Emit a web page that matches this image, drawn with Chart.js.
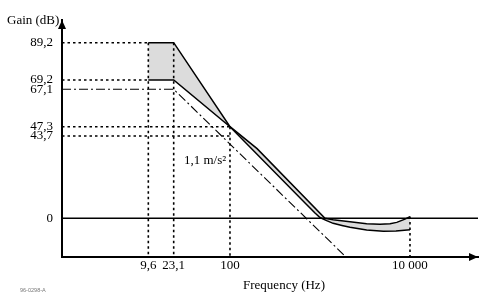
<!DOCTYPE html>
<html><head><meta charset="utf-8">
<script src="https://cdn.jsdelivr.net/npm/chart.js@4.4.0/dist/chart.umd.min.js"></script>
<style>html,body{margin:0;padding:0;background:#fff;}canvas{display:block;}</style>
</head><body>
<canvas id="c" width="479" height="294"></canvas>
<script>
// ---- data ----
const upperFreq = [9.6, 23.1, 100, 200, 1136, 1400, 2154, 3300, 4642, 6000, 7130, 8800, 10000];
const upperGain = [89.2, 89.2, 47.3, 37.0, 0, -0.7, -1.75, -2.8, -3.1, -2.8, -2.1, -0.4, 0.9];
const lowerFreq = [9.6, 23.1, 100, 700, 880, 1000, 1186, 1400, 1755, 2154, 3300, 5050, 6990, 10000];
const lowerGain = [69.2, 69.2, 47.3, 7.6, 2.8, 0.4, -1.2, -2.6, -3.7, -4.65, -6.05, -6.7, -6.5, -5.9];
const dashFreq = [1, 23.1, 1945];
const dashGain = [67.1, 67.1, -20];
const zeroFreq = [1, 57000];
const zeroGain = [0, 0];
const guideHGain = [89.2, 69.2, 47.3, 43.7];
const guideHFreq = [9.6, 9.6, 100, 100];
const guideVFreq = [9.6, 23.1, 100, 10000];
const guideVGain = [89.2, 89.2, 47.3, 0.9];
const xTickValues = [9.6, 23.1, 100, 10000];
const xTickLabels = ['9,6', '23,1', '100', '10 000'];
const yTickValues = [0, 43.7, 47.3, 67.1, 69.2, 89.2];
const yTickLabels = ['0', '43,7', '47,3', '67,1', '69,2', '89,2'];

// ---- schematic (piecewise) axis layout: [value, fraction of axis] ----
const axisLayout = {
  x: { log: true,  anchors: [[1, 0], [9.6, 0.2075], [23.1, 0.2685], [100, 0.4038], [10000, 0.8365], [57000, 1]] },
  y: { log: false, anchors: [[-20, 0], [0, 0.1633], [43.7, 0.5105], [47.3, 0.5498], [67.1, 0.7076], [69.2, 0.7468], [89.2, 0.9042], [100, 1]] }
};

class PiecewiseScale extends Chart.LinearScale {
  _lay() { return axisLayout[this.id]; }
  _tf(v) { return this._lay().log ? Math.log10(v) : v; }
  determineDataLimits() {
    const a = this._lay().anchors;
    this.min = a[0][0];
    this.max = a[a.length - 1][0];
  }
  buildTicks() {
    const vals = this.id === 'x' ? xTickValues : yTickValues;
    return vals.map(v => ({ value: v }));
  }
  getPixelForValue(value) {
    if (value === null || value === undefined || isNaN(value)) return NaN;
    const a = this._lay().anchors;
    const t = this._tf(value);
    let i = 0;
    while (i < a.length - 2 && t > this._tf(a[i + 1][0])) i++;
    const v0 = this._tf(a[i][0]), v1 = this._tf(a[i + 1][0]);
    const d = a[i][1] + (t - v0) / (v1 - v0) * (a[i + 1][1] - a[i][1]);
    return this.getPixelForDecimal(d);
  }
  getValueForPixel(pixel) {
    const d = this.getDecimalForPixel(pixel);
    const a = this._lay().anchors;
    let i = 0;
    while (i < a.length - 2 && d > a[i + 1][1]) i++;
    const v0 = this._tf(a[i][0]), v1 = this._tf(a[i + 1][0]);
    const t = v0 + (d - a[i][1]) / (a[i + 1][1] - a[i][1]) * (v1 - v0);
    return this._lay().log ? Math.pow(10, t) : t;
  }
}
PiecewiseScale.id = 'piecewise';
PiecewiseScale.defaults = {};
Chart.register(PiecewiseScale);

const pts = (xs, ys) => xs.map((x, i) => ({ x: x, y: ys[i] }));
const SERIF = '"Liberation Serif", "Times New Roman", serif';

const datasets = [
  { label: 'upper', data: pts(upperFreq, upperGain), borderColor: '#000', borderWidth: 1.5,
    fill: 1, backgroundColor: '#dcdcdc', order: 2 },
  { label: 'lower', data: pts(lowerFreq, lowerGain), borderColor: '#000', borderWidth: 1.5,
    fill: false, order: 2 },
  { label: 'zero', data: pts(zeroFreq, zeroGain), borderColor: '#000', borderWidth: 1.5, fill: false, order: 1 },
  { label: 'dashdot', data: pts(dashFreq, dashGain), borderColor: '#000', borderWidth: 1.1,
    borderDash: [9, 3, 2, 3], fill: false, order: 1 }
];
guideHGain.forEach((g, i) => datasets.push({
  label: 'h' + i, data: pts([1, guideHFreq[i]], [g, g]), borderColor: '#000', borderWidth: 1.6,
  borderDash: [2.5, 3], fill: false, order: 0 }));
guideVFreq.forEach((f, i) => datasets.push({
  label: 'v' + i, data: pts([f, f], [guideVGain[i], -20]), borderColor: '#000', borderWidth: 1.6,
  borderDash: [2.5, 3], fill: false, order: 0 }));
datasets.forEach(d => { d.showLine = true; d.pointRadius = 0; d.tension = 0; d.clip = 4; });

const decor = {
  id: 'decor',
  afterDraw(chart) {
    const ctx = chart.ctx, a = chart.chartArea;
    ctx.save();
    ctx.fillStyle = '#000';
    ctx.beginPath();
    ctx.moveTo(a.left, a.top); ctx.lineTo(a.left - 4, a.top + 9); ctx.lineTo(a.left + 4, a.top + 9);
    ctx.closePath(); ctx.fill();
    ctx.beginPath();
    ctx.moveTo(a.right, a.bottom); ctx.lineTo(a.right - 9, a.bottom - 4); ctx.lineTo(a.right - 9, a.bottom + 4);
    ctx.closePath(); ctx.fill();
    ctx.font = '13px ' + SERIF;
    ctx.textBaseline = 'alphabetic';
    ctx.textAlign = 'left';
    ctx.fillText('Gain (dB)', 7, 23.5);
    ctx.fillText('1,1 m/s²', 184, 164);
    ctx.textAlign = 'center';
    ctx.fillText('Frequency (Hz)', 284, 289);
    ctx.font = '5.5px "Liberation Sans", Arial, sans-serif';
    ctx.fillStyle = '#777';
    ctx.textAlign = 'left';
    ctx.fillText('96-0298-A', 20, 292);
    ctx.restore();
  }
};

new Chart(document.getElementById('c'), {
  type: 'scatter',
  data: { datasets: datasets },
  options: {
    responsive: false,
    animation: false,
    devicePixelRatio: 1,
    layout: { padding: { top: 20, right: 1, bottom: 0, left: 0 } },
    plugins: { legend: { display: false }, tooltip: { enabled: false }, filler: { drawTime: 'beforeDatasetsDraw' } },
    scales: {
      x: {
        type: 'piecewise', position: 'bottom',
        grid: { display: false, drawTicks: false },
        border: { display: true, color: '#000', width: 2 },
        ticks: { autoSkip: false, maxRotation: 0, minRotation: 0, padding: 1, color: '#000',
          font: { family: SERIF, size: 13 }, callback: (v, i) => xTickLabels[i] },
        afterFit: s => { s.height = 37; }
      },
      y: {
        type: 'piecewise', position: 'left',
        grid: { display: false, drawTicks: false },
        border: { display: true, color: '#000', width: 2 },
        ticks: { autoSkip: false, padding: 9, color: '#000',
          font: { family: SERIF, size: 13 }, callback: (v, i) => yTickLabels[i] },
        afterFit: s => { s.width = 62; }
      }
    }
  },
  plugins: [decor]
});
</script>
</body></html>
